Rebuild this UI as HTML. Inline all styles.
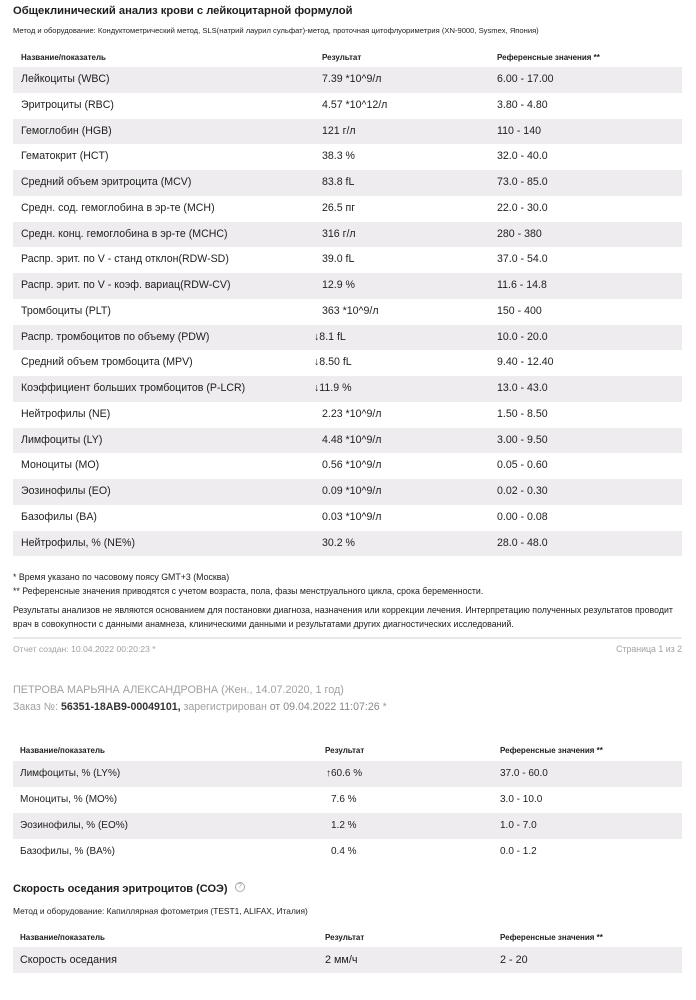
<!DOCTYPE html>
<html><head><meta charset="utf-8">
<style>
html,body{margin:0;padding:0;background:#fff;}
body{width:696px;height:1000px;position:relative;overflow:hidden;font-family:"Liberation Sans","Noto Sans CJK SC",sans-serif;color:#1e1e1e;}
.t{position:absolute;white-space:nowrap;line-height:1;}
.b{font-weight:bold;}
.row{position:absolute;left:13px;width:669px;height:25.75px;}
.s{background:#eeecee;}
.row span{position:absolute;top:7px;font-size:10.6px;line-height:1;white-space:nowrap;}
.c1{left:8px;}
.c2{left:309px;}
.c2a{left:301px;}
.c3{left:484px;}
.row2{position:absolute;left:13px;width:669px;height:26px;}
.row2 span{position:absolute;top:8px;font-size:10px;line-height:1;white-space:nowrap;}
.d1{left:7px;}
.d2{left:318px;}
.d2a{left:313px;}
.d3{left:487px;}
.h{font-size:8px;font-weight:bold;}
.g{color:#a0a0a0;}
</style></head><body>

<div class="t b" style="left:13px;top:5.5px;font-size:11.2px;">Общеклинический анализ крови с лейкоцитарной формулой</div>
<div class="t" style="left:13px;top:27px;font-size:7.6px;">Метод и оборудование: Кондуктометрический метод, SLS(натрий лаурил сульфат)-метод, проточная цитофлуориметрия (XN-9000, Sysmex, Япония)</div>

<div class="t h" style="left:21px;top:54px;">Название/показатель</div>
<div class="t h" style="left:322px;top:54px;">Результат</div>
<div class="t h" style="left:497px;top:54px;">Референсные значения **</div>

<div class="row s" style="top:67.1px;"><span class="c1">Лейкоциты (WBC)</span><span class="c2">7.39 *10^9/л</span><span class="c3">6.00 - 17.00</span></div>
<div class="row" style="top:92.85px;"><span class="c1">Эритроциты (RBC)</span><span class="c2">4.57 *10^12/л</span><span class="c3">3.80 - 4.80</span></div>
<div class="row s" style="top:118.6px;"><span class="c1">Гемоглобин (HGB)</span><span class="c2">121 г/л</span><span class="c3">110 - 140</span></div>
<div class="row" style="top:144.35px;"><span class="c1">Гематокрит (HCT)</span><span class="c2">38.3 %</span><span class="c3">32.0 - 40.0</span></div>
<div class="row s" style="top:170.1px;"><span class="c1">Средний объем эритроцита (MCV)</span><span class="c2">83.8 fL</span><span class="c3">73.0 - 85.0</span></div>
<div class="row" style="top:195.85px;"><span class="c1">Средн. сод. гемоглобина в эр-те (MCH)</span><span class="c2">26.5 пг</span><span class="c3">22.0 - 30.0</span></div>
<div class="row s" style="top:221.6px;"><span class="c1">Средн. конц. гемоглобина в эр-те (MCHC)</span><span class="c2">316 г/л</span><span class="c3">280 - 380</span></div>
<div class="row" style="top:247.35px;"><span class="c1">Распр. эрит. по V - станд отклон(RDW-SD)</span><span class="c2">39.0 fL</span><span class="c3">37.0 - 54.0</span></div>
<div class="row s" style="top:273.1px;"><span class="c1">Распр. эрит. по V - коэф. вариац(RDW-CV)</span><span class="c2">12.9 %</span><span class="c3">11.6 - 14.8</span></div>
<div class="row" style="top:298.85px;"><span class="c1">Тромбоциты (PLT)</span><span class="c2">363 *10^9/л</span><span class="c3">150 - 400</span></div>
<div class="row s" style="top:324.6px;"><span class="c1">Распр. тромбоцитов по объему (PDW)</span><span class="c2a">↓8.1 fL</span><span class="c3">10.0 - 20.0</span></div>
<div class="row" style="top:350.35px;"><span class="c1">Средний объем тромбоцита (MPV)</span><span class="c2a">↓8.50 fL</span><span class="c3">9.40 - 12.40</span></div>
<div class="row s" style="top:376.1px;"><span class="c1">Коэффициент больших тромбоцитов (P-LCR)</span><span class="c2a">↓11.9 %</span><span class="c3">13.0 - 43.0</span></div>
<div class="row" style="top:401.85px;"><span class="c1">Нейтрофилы (NE)</span><span class="c2">2.23 *10^9/л</span><span class="c3">1.50 - 8.50</span></div>
<div class="row s" style="top:427.6px;"><span class="c1">Лимфоциты (LY)</span><span class="c2">4.48 *10^9/л</span><span class="c3">3.00 - 9.50</span></div>
<div class="row" style="top:453.35px;"><span class="c1">Моноциты (MO)</span><span class="c2">0.56 *10^9/л</span><span class="c3">0.05 - 0.60</span></div>
<div class="row s" style="top:479.1px;"><span class="c1">Эозинофилы (EO)</span><span class="c2">0.09 *10^9/л</span><span class="c3">0.02 - 0.30</span></div>
<div class="row" style="top:504.85px;"><span class="c1">Базофилы (BA)</span><span class="c2">0.03 *10^9/л</span><span class="c3">0.00 - 0.08</span></div>
<div class="row s" style="top:530.6px;"><span class="c1">Нейтрофилы, % (NE%)</span><span class="c2">30.2 %</span><span class="c3">28.0 - 48.0</span></div>

<div class="t" style="left:13px;top:573px;font-size:8.8px;">* Время указано по часовому поясу GMT+3 (Москва)</div>
<div class="t" style="left:13px;top:587px;font-size:8.8px;">** Референсные значения приводятся с учетом возраста, пола, фазы менструального цикла, срока беременности.</div>
<div class="t" style="left:13px;top:606px;font-size:8.8px;">Результаты анализов не являются основанием для постановки диагноза, назначения или коррекции лечения. Интерпретацию полученных результатов проводит</div>
<div class="t" style="left:13px;top:620px;font-size:8.8px;">врач в совокупности с данными анамнеза, клиническими данными и результатами других диагностических исследований.</div>

<div style="position:absolute;left:13px;top:637px;width:669px;height:2px;background:#e8e8e8;"></div>
<div class="t g" style="left:13px;top:644.5px;font-size:8.6px;">Отчет создан: 10.04.2022 00:20:23 *</div>
<div class="t g" style="right:14px;top:644.5px;font-size:8.8px;">Страница 1 из 2</div>

<div class="t g" style="left:13px;top:685px;font-size:10.8px;">ПЕТРОВА МАРЬЯНА АЛЕКСАНДРОВНА (Жен., 14.07.2020, 1 год)</div>
<div class="t" style="left:13px;top:702px;font-size:10.6px;color:#a0a0a0;">Заказ №: <b style="color:#333;">56351-18AB9-00049101,</b> зарегистрирован <span style="color:#888;">от 09.04.2022 11:07:26</span> *</div>

<div class="t h" style="left:20px;top:747px;">Название/показатель</div>
<div class="t h" style="left:325px;top:747px;">Результат</div>
<div class="t h" style="left:500px;top:747px;">Референсные значения **</div>

<div class="row2 s" style="top:761px;"><span class="d1">Лимфоциты, % (LY%)</span><span class="d2a">↑60.6 %</span><span class="d3">37.0 - 60.0</span></div>
<div class="row2" style="top:787px;"><span class="d1">Моноциты, % (MO%)</span><span class="d2">7.6 %</span><span class="d3">3.0 - 10.0</span></div>
<div class="row2 s" style="top:813px;"><span class="d1">Эозинофилы, % (EO%)</span><span class="d2">1.2 %</span><span class="d3">1.0 - 7.0</span></div>
<div class="row2" style="top:839px;"><span class="d1">Базофилы, % (BA%)</span><span class="d2">0.4 %</span><span class="d3">0.0 - 1.2</span></div>

<div class="t b" style="left:13px;top:884px;font-size:11px;">Скорость оседания эритроцитов (СОЭ)</div>
<div style="position:absolute;left:235px;top:882px;width:8px;height:8px;border:1px solid #aaa;border-radius:50%;font-size:7px;line-height:8px;text-align:center;color:#999;">?</div>
<div class="t" style="left:13px;top:906.5px;font-size:8.4px;">Метод и оборудование: Капиллярная фотометрия (TEST1, ALIFAX, Италия)</div>

<div class="t h" style="left:20px;top:934px;">Название/показатель</div>
<div class="t h" style="left:325px;top:934px;">Результат</div>
<div class="t h" style="left:500px;top:934px;">Референсные значения **</div>

<div class="row2 s" style="top:947px;"><span class="d1" style="font-size:10.8px;">Скорость оседания</span><span style="left:312px;font-size:10.8px;">2 мм/ч</span><span class="d3" style="font-size:10.8px;">2 - 20</span></div>

</body></html>
